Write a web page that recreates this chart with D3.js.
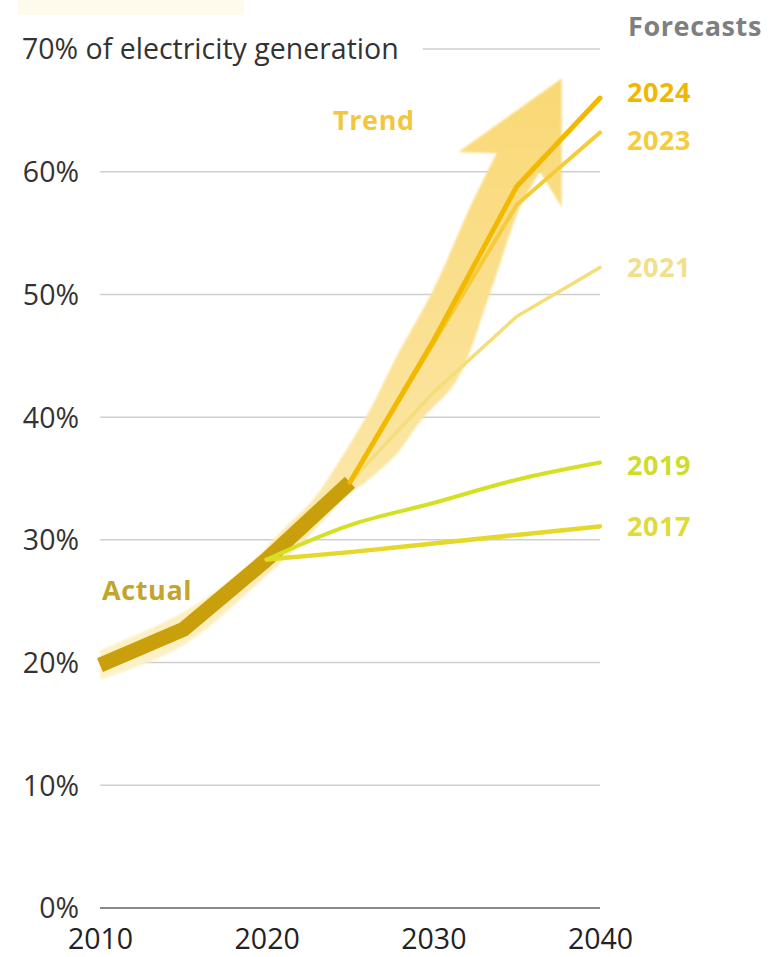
<!DOCTYPE html>
<html>
<head>
<meta charset="utf-8">
<script src="https://cdn.jsdelivr.net/npm/d3@7/dist/d3.min.js"></script>
<style>
  html, body { margin: 0; padding: 0; background: #fff; }
  svg { display: block; }
</style>
</head>
<body>
<svg id="chart" width="770" height="957"></svg>
<script>
// ---------- data ----------
const yTicks = [0, 10, 20, 30, 40, 50, 60, 70];
const yTickLabels = ["0%", "10%", "20%", "30%", "40%", "50%", "60%", "70% of electricity generation"];
const xTicks = [2010, 2020, 2030, 2040];
const xTickLabels = ["2010", "2020", "2030", "2040"];

const actualYears = [2010, 2015, 2020, 2025];
const actualValues = [19.8, 22.7, 28.4, 34.7];

const seriesNames = ["2017", "2019", "2021", "2023", "2024"];
const f2017Years = [2020, 2025, 2030, 2035, 2040];
const f2017Values = [28.4, 29.0, 29.7, 30.4, 31.1];
const f2019Years = [2020, 2025, 2030, 2035, 2040];
const f2019Values = [28.4, 31.2, 33.0, 34.9, 36.3];
const f2021Years = [2025, 2030, 2035, 2040];
const f2021Values = [34.7, 42.0, 48.2, 52.2];
const f2023Years = [2025, 2030, 2035, 2040];
const f2023Values = [34.7, 46.0, 57.3, 63.2];
const f2024Years = [2025, 2030, 2035, 2040];
const f2024Values = [34.7, 46.2, 58.8, 66.0];

// trend arrow outline: left edge (bottom to top), head, right edge (top to bottom)
const trendLeftYears   = [2010.0, 2015.0, 2018.8, 2020.8, 2022.8, 2024.4, 2026.2, 2027.7, 2030.0, 2032.2, 2033.8];
const trendLeftValues  = [21.0, 24.1, 27.8, 30.6, 33.3, 36.5, 40.6, 44.7, 50.4, 57.1, 61.5];
const trendHeadYears   = [2031.5, 2037.7, 2037.7];
const trendHeadValues  = [61.6, 67.6, 57.1];
const trendRightYears  = [2036.4, 2035.2, 2033.4, 2031.4, 2029.3, 2027.8, 2026.2, 2024.6, 2022.3, 2020.0, 2015.0, 2010.0];
const trendRightValues = [60.0, 57.1, 50.1, 43.0, 39.8, 37.0, 35.0, 33.3, 30.0, 27.1, 21.4, 18.6];

// ---------- chart ----------
const svg = d3.select("#chart");
const x = d3.scaleLinear().domain([2010, 2040]).range([100, 600]);
const y = d3.scaleLinear().domain([0, 70]).range([908, 49]);

const FONT = "'Open Sans', 'DejaVu Sans', sans-serif";

// faint remnant band at very top-left
svg.append("rect").attr("x", 18).attr("y", 0).attr("width", 226).attr("height", 15)
   .attr("fill", "#fefaec");

// y labels
const yAxis = d3.axisLeft(y).tickValues(yTicks).tickSize(0)
  .tickFormat((d, i) => yTickLabels[i]);
const yG = svg.append("g").attr("transform", "translate(79,0)").call(yAxis);
yG.select(".domain").remove();
yG.selectAll("text")
  .attr("x", 0).attr("dy", "0.35em")
  .style("font-family", FONT).style("font-size", "28.5px").attr("fill", "#333");
yG.selectAll(".tick").filter(d => d === 70).select("text")
  .attr("text-anchor", "start").attr("x", -57);

let titleEnd = 410;
yG.selectAll(".tick").filter(d => d === 70).select("text").each(function() {
  titleEnd = 79 - 57 + this.getComputedTextLength();
});

// gridlines
const grid = svg.append("g");
yTicks.forEach(t => {
  const x0 = t === 70 ? titleEnd + 24 : x(2010);
  grid.append("line")
    .attr("x1", x0).attr("x2", x(2040))
    .attr("y1", y(t)).attr("y2", y(t))
    .attr("stroke", t === 0 ? "#8a8a8a" : "#cfcfcf")
    .attr("stroke-width", t === 0 ? 2 : 1.5);
});

// x labels
const xAxis = d3.axisBottom(x).tickValues(xTicks).tickSize(0)
  .tickFormat((d, i) => xTickLabels[i]);
const xG = svg.append("g").attr("transform", "translate(0,922)").call(xAxis);
xG.select(".domain").remove();
xG.selectAll("text").attr("y", 0).attr("dy", "0.95em")
  .style("font-family", FONT).style("font-size", "28.5px").attr("fill", "#222");

// trend arrow
const defs = svg.append("defs");
const grad = defs.append("linearGradient").attr("id", "trendGrad")
  .attr("gradientUnits", "userSpaceOnUse")
  .attr("x1", 0).attr("y1", y(18)).attr("x2", 0).attr("y2", y(68));
grad.append("stop").attr("offset", "0%").attr("stop-color", "#fdf2cc");
grad.append("stop").attr("offset", "40%").attr("stop-color", "#fbe49f");
grad.append("stop").attr("offset", "100%").attr("stop-color", "#f9d874");
defs.append("filter").attr("id", "soft")
  .append("feGaussianBlur").attr("stdDeviation", 0.9);

const curved = d3.line().x(d => x(d[0])).y(d => y(d[1])).curve(d3.curveCatmullRom.alpha(0.5));
const leftPts = trendLeftYears.map((yr, i) => [yr, trendLeftValues[i]]);
const headPts = trendHeadYears.map((yr, i) => [yr, trendHeadValues[i]]);
const rightPts = trendRightYears.map((yr, i) => [yr, trendRightValues[i]]);
const trendD = curved(leftPts)
  + headPts.map(p => "L" + x(p[0]) + "," + y(p[1])).join("")
  + curved(rightPts).replace(/^M/, "L") + "Z";
svg.append("path").attr("d", trendD)
  .attr("fill", "url(#trendGrad)")
  .attr("filter", "url(#soft)");

const line = d3.line().x(d => x(d[0])).y(d => y(d[1]));
const smooth = d3.line().x(d => x(d[0])).y(d => y(d[1])).curve(d3.curveMonotoneX);

// actual
svg.append("path")
  .attr("d", line(actualYears.map((yr, i) => [yr, actualValues[i]])))
  .attr("fill", "none").attr("stroke", "#c9a00c").attr("stroke-width", 15)
  .attr("stroke-linejoin", "round").attr("stroke-linecap", "butt");

// forecasts
const fYears = [f2017Years, f2019Years, f2021Years, f2023Years, f2024Years];
const fValues = [f2017Values, f2019Values, f2021Values, f2023Values, f2024Values];
const lineColors = ["#e6d82a", "#d5df24", "#f4de7a", "#f5cb3a", "#f2b900"];
const lineWidths = [4.5, 4, 3.5, 4, 5];
const labelColors = ["#dedb3a", "#cfdc2c", "#f2df8a", "#f4cc3e", "#f0b700"];
const useSmooth = [true, true, false, false, false];

seriesNames.forEach((name, k) => {
  const gen = useSmooth[k] ? smooth : line;
  svg.append("path")
    .attr("d", gen(fYears[k].map((yr, i) => [yr, fValues[k][i]])))
    .attr("fill", "none").attr("stroke", lineColors[k])
    .attr("stroke-width", lineWidths[k])
    .attr("stroke-linejoin", "round").attr("stroke-linecap", "round");
});

// labels
const labelY = [527, 466, 268, 141, 93];
const LBL = "'Open Sans', 'DejaVu Sans', sans-serif";
function label(txt, lx, ly, color) {
  svg.append("text").attr("x", lx).attr("y", ly).attr("dy", "0.35em")
    .text(txt).attr("fill", color)
    .style("font-family", LBL).style("font-weight", 700)
    .style("font-size", "27px").style("letter-spacing", "0.6px");
}
seriesNames.forEach((name, k) => label(name, 627, labelY[k], labelColors[k]));
label("Forecasts", 628, 27, "#7f7f7f");
label("Trend", 333, 121, "#f3c73d");
label("Actual", 102, 591, "#c2a52c");
</script>
</body>
</html>
